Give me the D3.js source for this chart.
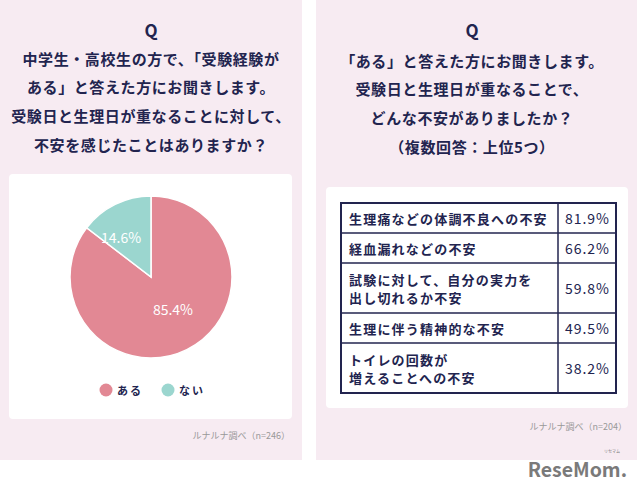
<!DOCTYPE html>
<html>
<head>
<meta charset="utf-8">
<script src="https://cdn.jsdelivr.net/npm/d3@7"></script>
<style>
  body { margin: 0; background: #fff; }
  svg { display: block; }
  text { font-family: "Noto Sans CJK JP", "Noto Sans", sans-serif; }
</style>
</head>
<body>
<div id="chart"></div>
<script>
// --- data ---
var leftTitle = ["中学生・高校生の方で、「受験経験が", "ある」と答えた方にお聞きします。",
                 "受験日と生理日が重なることに対して、", "不安を感じたことはありますか？"];
var rightTitle = ["「ある」と答えた方にお聞きします。", "受験日と生理日が重なることで、",
                  "どんな不安がありましたか？", "（複数回答：上位5つ）"];
var pieLabels = ["ある", "ない"];
var pieValues = [85.4, 14.6];
var tableItems = [["生理痛などの体調不良への不安"], ["経血漏れなどの不安"],
                  ["試験に対して、自分の実力を", "出し切れるか不安"],
                  ["生理に伴う精神的な不安"], ["トイレの回数が", "増えることへの不安"]];
var tableValues = [81.9, 66.2, 59.8, 49.5, 38.2];
var leftNote = "ルナルナ調べ（n=246）";
var rightNote = "ルナルナ調べ（n=204）";

var navy = "#22244f", panelBg = "#f7ebf2";

var svg = d3.select("#chart").append("svg")
    .attr("width", 640)
    .attr("height", 490);

// panels
svg.append("rect").attr("x", 0).attr("y", 0).attr("width", 302).attr("height", 460).attr("fill", panelBg);
svg.append("rect").attr("x", 316).attr("y", 0).attr("width", 321).attr("height", 460).attr("fill", panelBg);
svg.append("rect").attr("x", 9).attr("y", 174).attr("width", 283).attr("height", 245).attr("rx", 4).attr("fill", "#fff");
svg.append("rect").attr("x", 326).attr("y", 187).attr("width", 302).attr("height", 221).attr("rx", 4).attr("fill", "#fff");

function drawTitle(cx, lines, y0) {
  svg.append("text")
      .attr("x", cx).attr("y", 29)
      .attr("text-anchor", "middle").attr("dominant-baseline", "central")
      .attr("font-family", "Noto Sans, sans-serif")
      .attr("font-size", 17).attr("font-weight", 700).attr("fill", navy)
      .text("Q");
  svg.selectAll(null).data(lines).enter().append("text")
      .attr("x", cx)
      .attr("y", function(d, i) { return y0 + i * 28.7; })
      .attr("text-anchor", "middle").attr("dominant-baseline", "central")
      .attr("font-size", 15).attr("font-weight", 700).attr("fill", navy)
      .attr("letter-spacing", 0.6)
      .text(function(d) { return d; });
}
drawTitle(151, leftTitle, 58);
drawTitle(472, rightTitle, 60);

// --- pie ---
var radius = 81;
var color = d3.scaleOrdinal().domain(pieLabels).range(["#e28894", "#9bd6cf"]);
var pie = d3.pie().sort(null).value(function(d) { return d.value; });
var arc = d3.arc().innerRadius(0).outerRadius(radius);
var labelArc = d3.arc().innerRadius(radius * 0.5).outerRadius(radius * 0.5);
var pieData = pie(pieLabels.map(function(l, i) { return {label: l, value: pieValues[i]}; }));

var g = svg.append("g").attr("transform", "translate(151,277)");
g.selectAll("path").data(pieData).enter().append("path")
    .attr("d", arc)
    .attr("fill", function(d) { return color(d.data.label); })
    .attr("stroke", "#fff").attr("stroke-width", 1.5);
g.selectAll("text").data(pieData).enter().append("text")
    .attr("transform", function(d) {
      var c = labelArc.centroid(d);
      // labels sit a little off the radial centre in the original
      return "translate(" + (c[0] - (d.index ? 12 : -4)) + "," + (c[1] - 4) + ")";
    })
    .attr("text-anchor", "middle").attr("dominant-baseline", "central")
    .attr("font-family", "Noto Sans, sans-serif")
    .attr("font-size", 14).attr("fill", "#fff")
    .text(function(d) { return d.data.value.toFixed(1) + "%"; });

// legend
var legendX = d3.scalePoint().domain(pieLabels).range([106, 168]);
var leg = svg.selectAll(".leg").data(pieLabels).enter().append("g")
    .attr("class", "leg")
    .attr("transform", function(d) { return "translate(" + legendX(d) + ",390)"; });
leg.append("circle").attr("r", 6.5).attr("fill", function(d) { return color(d); });
leg.append("text")
    .attr("x", 11).attr("dominant-baseline", "central")
    .attr("font-size", 11).attr("font-weight", 700).attr("fill", navy)
    .attr("letter-spacing", 2)
    .text(function(d) { return d; });

// --- table ---
var rowUnits = tableItems.map(function(d) { return d.length > 1 ? 50 : 30; });
var cum = [0];
rowUnits.forEach(function(u) { cum.push(cum[cum.length - 1] + u); });
var y = d3.scaleLinear().domain([0, cum[cum.length - 1]]).range([203, 393]);
var tLeft = 341, tDiv = 558, tRight = 616;

var rows = svg.selectAll(".row").data(tableItems).enter().append("g").attr("class", "row");
rows.each(function(lines, i) {
  var r = d3.select(this);
  var top = y(cum[i]), bot = y(cum[i + 1]), mid = (top + bot) / 2;
  r.selectAll("text.lab").data(lines).enter().append("text")
      .attr("class", "lab")
      .attr("x", tLeft + 8)
      .attr("y", function(d, j) { return mid + (j - (lines.length - 1) / 2) * 18; })
      .attr("dominant-baseline", "central")
      .attr("font-size", 13).attr("font-weight", 700).attr("fill", navy)
      .attr("letter-spacing", 1.2)
      .text(function(d) { return d; });
  r.append("text")
      .attr("x", tRight - 6).attr("y", mid)
      .attr("text-anchor", "end").attr("dominant-baseline", "central")
      .attr("font-size", 14).attr("fill", navy)
      .attr("font-family", "Noto Sans, sans-serif")
      .attr("letter-spacing", 1)
      .text(tableValues[i].toFixed(1) + "%");
});

// grid lines
svg.selectAll(".hline").data(cum.slice(1, -1)).enter().append("line")
    .attr("x1", tLeft).attr("x2", tRight)
    .attr("y1", function(d) { return y(d); }).attr("y2", function(d) { return y(d); })
    .attr("stroke", navy).attr("stroke-width", 1.5);
svg.append("line").attr("x1", tDiv).attr("x2", tDiv).attr("y1", y(0)).attr("y2", y(cum[cum.length - 1]))
    .attr("stroke", navy).attr("stroke-width", 1.5);
svg.append("rect").attr("x", tLeft).attr("y", y(0))
    .attr("width", tRight - tLeft).attr("height", y(cum[cum.length - 1]) - y(0))
    .attr("fill", "none").attr("stroke", navy).attr("stroke-width", 2);

// footnotes
svg.append("text").attr("x", 290).attr("y", 435)
    .attr("text-anchor", "end").attr("dominant-baseline", "central")
    .attr("font-size", 9).attr("fill", "#999").text(leftNote);
svg.append("text").attr("x", 627).attr("y", 426)
    .attr("text-anchor", "end").attr("dominant-baseline", "central")
    .attr("font-size", 9).attr("fill", "#999").text(rightNote);

// logo
svg.append("text").attr("x", 627).attr("y", 477)
    .attr("text-anchor", "end")
    .attr("font-family", "DejaVu Sans Condensed, DejaVu Sans, sans-serif")
    .attr("font-size", 19.5).attr("font-weight", 700).attr("fill", "#7a7a7a")
    .text("ReseMom.");
svg.append("text").attr("x", 612).attr("y", 453)
    .attr("text-anchor", "middle")
    .attr("font-size", 4).attr("fill", "#7a7a7a").text("リセマム");
</script>
</body>
</html>
